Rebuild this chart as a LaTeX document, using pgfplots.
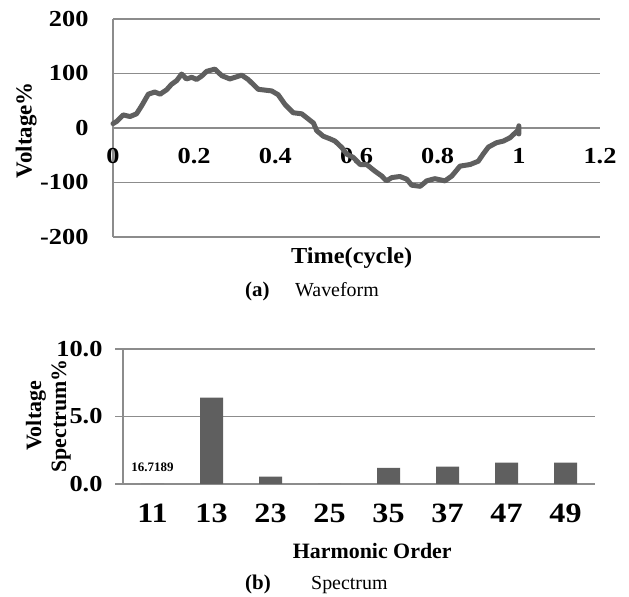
\documentclass[border=0pt]{standalone}
\usepackage{fontspec}
\setmainfont{Liberation Serif}
\newfontfamily\tickfont{Liberation Serif}[FakeStretch=1.15]
\newfontfamily\labfont{Liberation Serif}[FakeStretch=1.06]
\usepackage{pgfplots}
\pgfplotsset{compat=1.18}
\definecolor{gridgray}{HTML}{8C8C8C}
\definecolor{linegray}{HTML}{5F5F5F}
\begin{document}
\begin{tikzpicture}[x=1bp,y=1bp]
\path[use as bounding box] (0,0) rectangle (629,597);
% ---------- (a) Waveform ----------
\begin{axis}[
  at={(113bp,360bp)}, anchor=south west, scale only axis,
  width=487bp, height=218bp,
  xmin=0, xmax=1.2, ymin=-200, ymax=200,
  xtick={0,0.2,0.4,0.6,0.8,1,1.2}, ytick={-200,-100,0,100,200},
  axis x line*=bottom, axis y line*=left,
  x axis line style={draw=none},
  y axis line style={gridgray, line width=1.2bp, -},
  ymajorgrids, major grid style={gridgray, line width=1.2bp},
  major tick length=0pt,
  xticklabel shift=-92bp,
  /pgf/number format/assume math mode=true,
  tick label style={font=\fontsize{23}{27}\tickfont\bfseries},
  yticklabel style={xshift=-21bp},
  xlabel={Time(cycle)},
  xlabel style={at={(axis description cs:0.49,-0.096)}, anchor=center, font=\fontsize{23}{27}\labfont\bfseries},
  ylabel={Voltage\%},
  ylabel style={at={(axis description cs:-0.178,0.49)}, anchor=center, font=\fontsize{23}{27}\selectfont\bfseries},
  clip=false,
]
\addplot[linegray, line width=5bp, line join=round, line cap=round] coordinates {
(0,8) (0.009,12) (0.025,24) (0.042,21) (0.058,26) (0.07,40) (0.087,62) (0.103,66)
(0.116,62) (0.132,70) (0.144,80) (0.157,87) (0.169,99) (0.181,90) (0.194,93) (0.206,89)
(0.218,95) (0.231,104) (0.251,108) (0.268,96) (0.288,90) (0.309,95) (0.317,97) (0.333,89)
(0.358,71) (0.391,68) (0.407,61) (0.424,43) (0.444,28) (0.465,26) (0.477,19) (0.494,9)
(0.502,-5) (0.518,-15) (0.535,-20) (0.547,-24) (0.564,-36) (0.576,-48) (0.592,-54) (0.609,-67)
(0.625,-67) (0.645,-79) (0.662,-88) (0.674,-97) (0.687,-91) (0.707,-89) (0.724,-94) (0.736,-105)
(0.757,-107) (0.773,-97) (0.793,-93) (0.818,-97) (0.835,-88) (0.855,-70) (0.88,-67) (0.9,-61)
(0.912,-48) (0.925,-35) (0.945,-27) (0.962,-24) (0.978,-18) (0.991,-9) (0.999,-3) (1.0,4) (1.0,-11)
};
\end{axis}
\node[anchor=base west, inner sep=0, font=\fontsize{21}{25}\selectfont\bfseries] at (245,300) {(a)};
\node[anchor=base west, inner sep=0, font=\fontsize{20}{24}\selectfont] at (295,300) {Waveform};
% ---------- (b) Spectrum ----------
\begin{axis}[
  at={(123bp,113bp)}, anchor=south west, scale only axis,
  width=472bp, height=135bp,
  xmin=-0.5, xmax=7.5, ymin=0, ymax=10,
  ytick={0,5,10},
  xtick={0,1,2,3,4,5,6,7},
  xticklabels={11,13,23,25,35,37,47,49},
  axis x line*=bottom, axis y line*=left,
  x axis line style={gridgray, line width=1.2bp, -},
  y axis line style={gridgray, line width=1.2bp, -},
  ymajorgrids, major grid style={gridgray, line width=1.2bp},
  tick align=outside, major tick length=8bp,
  ytick style={gridgray, line width=1.2bp},
  xtick style={draw=none},
  /pgf/number format/assume math mode=true,
  yticklabel style={/pgf/number format/fixed, /pgf/number format/fixed zerofill, /pgf/number format/precision=1},
  yticklabel style={font=\fontsize{23}{27}\tickfont\bfseries, xshift=-9bp},
  xticklabel style={font=\fontsize{28}{32}\tickfont\bfseries},
  xticklabel shift=9bp,
  xlabel={Harmonic Order},
  xlabel style={at={(axis description cs:0.528,-0.496)}, anchor=center, font=\fontsize{22}{26}\selectfont\bfseries},
  ylabel={Voltage\\Spectrum\%},
  ylabel style={at={(axis description cs:-0.158,0.504)}, anchor=center, align=center, font=\fontsize{22}{25}\selectfont\bfseries},
  clip=false,
]
\addplot[ybar, bar width=23bp, fill=linegray, draw=none] coordinates {
(0,0) (1,6.4) (2,0.55) (3,0) (4,1.2) (5,1.28) (6,1.58) (7,1.58)
};
\node[font=\fontsize{13}{15}\selectfont\bfseries] at (axis cs:0,1.26) {16.7189};
\end{axis}
\node[anchor=base west, inner sep=0, font=\fontsize{21}{25}\selectfont\bfseries] at (245,7) {(b)};
\node[anchor=base west, inner sep=0, font=\fontsize{20}{24}\selectfont] at (311,7) {Spectrum};
\end{tikzpicture}
\end{document}
